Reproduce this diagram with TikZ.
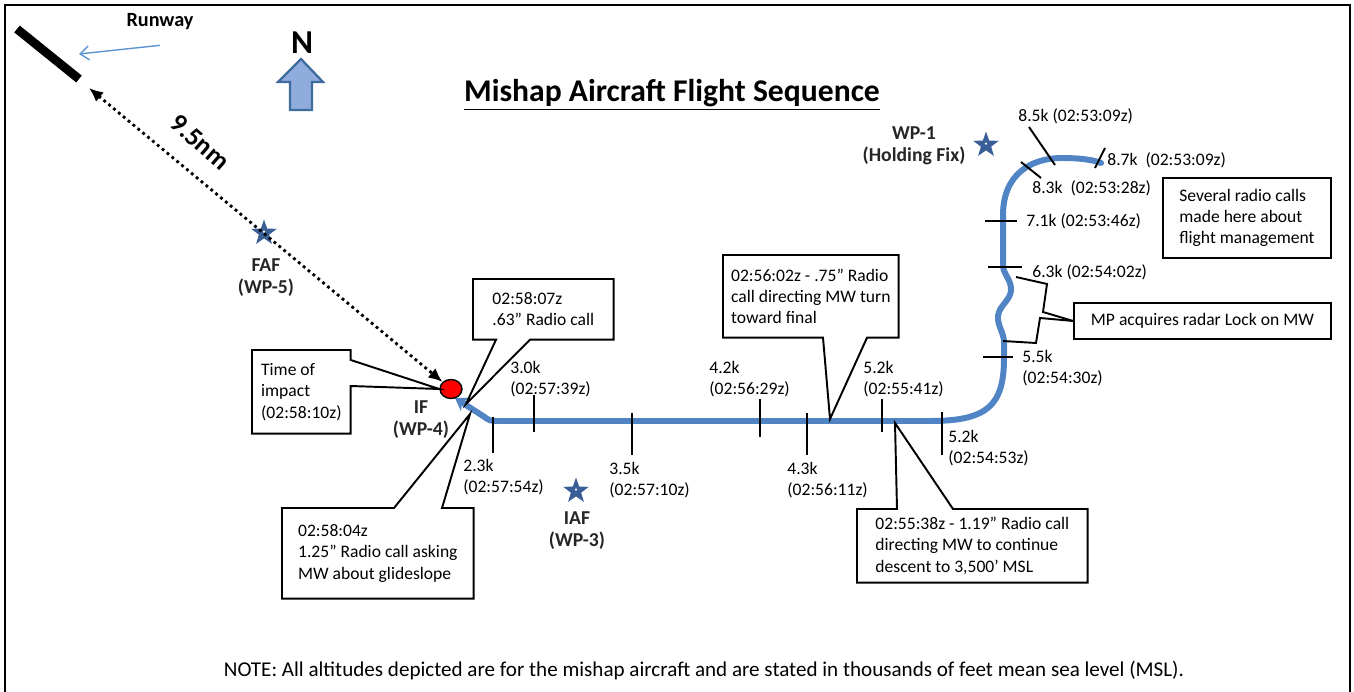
\documentclass[tikz,border=0pt]{standalone}
\usepackage{fontspec}
\setmainfont{Carlito}
\usetikzlibrary{shapes.geometric,arrows.meta,positioning,calc}

\definecolor{trackblue}{RGB}{80,132,196}
\definecolor{starblue}{RGB}{58,95,150}
\definecolor{rwyblue}{RGB}{91,150,210}
\definecolor{nfill}{RGB}{143,172,220}
\definecolor{nedge}{RGB}{62,108,156}

\begin{document}
\begin{tikzpicture}[
    x=0.02cm, y=-0.02cm,
    font=\fontsize{10}{12.2}\selectfont,
    track/.style={draw=trackblue, line width=3.4pt, line cap=round, line join=round},
    tick/.style={draw=black, line width=1.1pt},
    alt/.style={inner sep=0pt, anchor=west, align=left},
    callbox/.style={anchor=north west, align=left, inner sep=0pt},
    callout/.style={draw=black, line width=1.1pt},
    wp/.style={star, star points=5, star point ratio=2.5, fill=starblue, inner sep=0pt, minimum size=0.54cm,
        path picture={\fill[white] (path picture bounding box.center) circle (0.7pt);}},
    wplabel/.style={font=\fontsize{11.2}{12.6}\selectfont\bfseries, align=center, text=black!85}
]
\useasboundingbox (0,0) rectangle (1354,692);
\draw[line width=1.2pt] (5,692) -- (5,5) -- (1350,5) -- (1350,692);

% runway and north arrow
\coordinate (rwyA) at (17,29);
\coordinate (rwyB) at (79,79);
\draw[line width=5pt] (rwyA) -- (rwyB);
\node[font=\fontsize{11.5}{13}\selectfont\bfseries] (rwylbl) at (160,22) {Runway};
\coordinate (rwytip) at (79,54);
\draw[rwyblue, line width=0.8pt, -{Straight Barb[length=5pt,width=8pt]}] ($(rwylbl.south)+(0,9)$) -- (rwytip);

\node[font=\fontsize{19}{20}\selectfont\bfseries] (north) at (302,43) {N};
\draw[fill=nfill, draw=nedge, line width=1.3pt] (301,59) -- (323,82) -- (312,82) -- (312,110) -- (290,110) -- (290,82) -- (278,82) -- cycle;

\node[font=\fontsize{18}{22}\selectfont\bfseries] (title) at (672,95) {\underline{Mishap Aircraft Flight Sequence}};

% waypoints
\node[wp] (faf) at (264,233) {};
\node[wplabel] (faflbl) at (266,278) {FAF\\(WP-5)};
\node[wp] (iaf) at (576,491) {};
\node[wplabel] (iaflbl) at (577,531) {IAF\\(WP-3)};
\node[wp] (wp1) at (986,145) {};
\node[wplabel] (wp1lbl) at (914,146) {WP-1\\(Holding Fix)};
\node[wplabel] (iflbl) at (421,420) {IF\\(WP-4)};

% flight path
\draw[track, {Stealth[length=7pt,width=9pt]}-] (455,398) -- (483,416) .. controls (490,421) .. (500,421) -- (930,421)
    .. controls (988,421) and (1004,405) .. (1004,358) -- (1004,342)
    .. controls (1004,333) and (997,325) .. (998,316) .. controls (999,305) and (1012,300) .. (1011,288)
    .. controls (1010,278) and (1003,274) .. (1003,265) -- (1003,215)
    .. controls (1003,175) and (1030,158) .. (1062,158) .. controls (1080,158) and (1094,160) .. (1101,163);

\node[ellipse, draw=black, line width=0.8pt, fill=red, minimum width=0.44cm, minimum height=0.38cm, inner sep=0pt] (impactdot) at (451,389) {};

% distance to runway
\coordinate (rwyend) at (89,88);
\draw[dotted, line width=1.6pt, {Latex[length=8pt,width=7pt]}-{Latex[length=8pt,width=7pt]}] (rwyend) -- (impactdot);
\node[font=\fontsize{15}{16}\selectfont\bfseries, rotate=-41] (dist) at (200,142) {9.5nm};

% altitude ticks
\draw[tick] (493,417) -- (493,453);
\draw[tick] (534,395) -- (534,432);
\draw[tick] (632,413) -- (632,455);
\draw[tick] (760,399) -- (760,437);
\draw[tick] (807,413) -- (807,455);
\draw[tick] (882,399) -- (882,432);
\draw[tick] (942,412) -- (942,455);
\draw[tick] (983,357) -- (1013,357);
\draw[tick] (988,267) -- (1022,267);
\draw[tick] (985,221) -- (1017,221);
\draw[tick] (1021,162) -- (1041,178);
\draw[tick] (1029,127) -- (1055,165);
\draw[tick] (1095,168) -- (1105,148);

% altitude labels
\node[alt] (a23) at (463,477) {2.3k\\(02:57:54z)};
\node[alt] (a30) at (510,379) {3.0k\\(02:57:39z)};
\node[alt] (a35) at (609,480) {3.5k\\(02:57:10z)};
\node[alt] (a42) at (709,379) {4.2k\\(02:56:29z)};
\node[alt] (a43) at (787,480) {4.3k\\(02:56:11z)};
\node[alt] (a52a) at (863,379) {5.2k\\(02:55:41z)};
\node[alt] (a52b) at (948,448) {5.2k\\(02:54:53z)};
\node[alt] (a55) at (1022,368) {5.5k\\(02:54:30z)};
\node[alt] (a63) at (1032,272) {6.3k (02:54:02z)};
\node[alt] (a71) at (1026,221) {7.1k (02:53:46z)};
\node[alt] (a83) at (1032,188) {8.3k\ \ (02:53:28z)};
\node[alt] (a85) at (1018,116) {8.5k (02:53:09z)};
\node[alt] (a87) at (1107,160) {8.7k\ \ (02:53:09z)};

% radio call boxes
\node[callbox, minimum width=1.96cm, minimum height=1.66cm] (impact) at (252,350) {Time of\\impact\\(02:58:10z)};
\draw[callout] (impact.north west) -- (impact.north east) -- ($(impact.north east)+(0,10)$) -- (impactdot.west)
    -- ($(impact.north east)+(0,36)$) -- (impact.south east) -- (impact.south west) -- cycle;

\node[callbox, minimum width=2.8cm, minimum height=1.2cm] (c063) at (473,279) {02:58:07z\\.63” Radio call};
\coordinate (tip063) at (466,404);
\draw[callout] (c063.north west) -- (c063.north east) -- (c063.south east) -- ($(c063.south west)+(57,0)$) -- (tip063)
    -- ($(c063.south west)+(23,0)$) -- (c063.south west) -- cycle;

\node[callbox, minimum width=3.82cm, minimum height=1.8cm] (c125) at (282,508) {02:58:04z\\1.25” Radio call asking\\MW about glideslope};
\coordinate (tip125) at (470,414);
\draw[callout] (c125.north west) -- ($(c125.north west)+(112,0)$) -- (tip125) -- ($(c125.north west)+(160,0)$)
    -- (c125.north east) -- (c125.south east) -- (c125.south west) -- cycle;

\node[callbox, minimum width=3.5cm, minimum height=1.64cm] (c075) at (723,255) {02:56:02z - .75” Radio\\call directing MW turn\\toward final};
\coordinate (tip075) at (830,419);
\draw[callout] (c075.north west) -- (c075.north east) -- (c075.south east) -- ($(c075.south west)+(144,0)$) -- (tip075)
    -- ($(c075.south west)+(100,0)$) -- (c075.south west) -- cycle;

\node[callbox, minimum width=4.6cm, minimum height=1.46cm] (c119) at (857,509) {02:55:38z - 1.19” Radio call\\directing MW to continue\\descent to 3,500’ MSL};
\coordinate (tip119) at (895,423);
\draw[callout] (c119.north west) -- ($(c119.north west)+(40,0)$) -- (tip119) -- ($(c119.north west)+(96,0)$)
    -- (c119.north east) -- (c119.south east) -- (c119.south west) -- cycle;

% holding remarks
\node[callbox, draw, line width=1.1pt, minimum width=3.36cm, minimum height=1.6cm] (several) at (1162,177) {Several radio calls\\made here about\\flight management};
\node[draw, line width=1.1pt, anchor=north west, minimum width=5.14cm, minimum height=0.72cm] (mp) at (1073,302) {MP acquires radar Lock on MW};
\draw[line width=1.1pt] (1016,277) -- (1047,284) -- (1043,312) -- (mp.west);
\draw[line width=1.1pt] (1003,341) -- (1036,343) -- (1040,318) -- (mp.west);

\node[font=\fontsize{12}{14}\selectfont] (note) at (704,670) {NOTE: All altitudes depicted are for the mishap aircraft and are stated in thousands of feet mean sea level (MSL).};

\end{tikzpicture}
\end{document}
